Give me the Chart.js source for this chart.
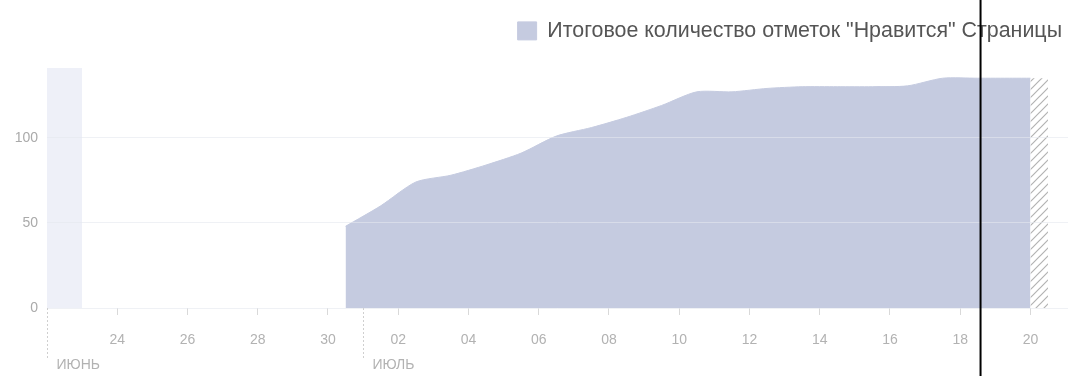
<!DOCTYPE html>
<html>
<head>
<meta charset="utf-8">
<script src="https://cdn.jsdelivr.net/npm/chart.js@4.4.1/dist/chart.umd.min.js"></script>
<style>
    html, body { margin: 0; padding: 0; background: #fff; }
    #wrap { width: 1068px; height: 376px; position: relative; }
</style>
</head>
<body>
<div id="wrap"><canvas id="likesChart"></canvas></div>
<script>
// Ось X: номер дня, 0 = 22 июня, 28 = 20 июля
const tickDays = [2, 4, 6, 8, 10, 12, 14, 16, 18, 20, 22, 24, 26, 28];
const tickLabels = ['24', '26', '28', '30', '02', '04', '06', '08', '10', '12', '14', '16', '18', '20'];
const monthStarts = [0, 9];
const monthNames = ['ИЮНЬ', 'ИЮЛЬ'];
const yTicks = [0, 50, 100];

// Итоговое количество отметок "Нравится" по дням
const likeDays = [8.5, 9.5, 10.5, 11.5, 12.5, 13.5, 14.5, 15.5, 16.5, 17.5, 18.5,
                  19.5, 20.5, 21.5, 22.5, 23.5, 24.5, 25.5, 26.5, 27.5, 28];
const likeValues = [48, 60, 74, 78, 84, 91, 101, 106, 112, 119, 127,
                    127, 129, 130, 130, 130, 130.5, 135, 135, 135, 135];

// Неполный последний день (штриховка)
const partialDays = [28, 28.5];
const partialValues = [135, 135];

// Подсвеченный первый день слева
const bandDays = [0, 1];
const bandValues = [141, 141];

const cursorDay = 26.58; // вертикальная чёрная линия
const xMax = 29.07;
const yMax = 141;

const legendText = 'Итоговое количество отметок "Нравится" Страницы';

function toPoints(xs, ys) {
    return xs.map((x, i) => ({ x: x, y: ys[i] }));
}

function makeHatch() {
    const c = document.createElement('canvas');
    c.width = 8; c.height = 8;
    const g = c.getContext('2d');
    g.fillStyle = '#ffffff';
    g.fillRect(0, 0, 8, 8);
    g.strokeStyle = '#b3b3b3';
    g.lineWidth = 1.2;
    g.beginPath();
    g.moveTo(0, 8); g.lineTo(8, 0);
    g.moveTo(-2, 2); g.lineTo(2, -2);
    g.moveTo(6, 10); g.lineTo(10, 6);
    g.stroke();
    return g.createPattern(c, 'repeat');
}

// Фиксированная высота легенды
const legendHeight = {
    id: 'legendHeight',
    beforeInit(chart) {
        const origFit = chart.legend.fit;
        chart.legend.fit = function () {
            origFit.bind(chart.legend)();
            this.height = 68;
        };
    }
};

// Разделители месяцев и подписи под осью
const monthMarks = {
    id: 'monthMarks',
    afterDraw(chart) {
        const ctx = chart.ctx;
        const xs = chart.scales.x;
        const top = chart.chartArea.bottom;
        ctx.save();
        ctx.strokeStyle = '#cfcfcf';
        ctx.lineWidth = 1;
        ctx.setLineDash([2, 2]);
        ctx.font = '14px "Liberation Sans", Arial, sans-serif';
        ctx.fillStyle = '#b2b2b2';
        ctx.textBaseline = 'middle';
        ctx.textAlign = 'left';
        monthStarts.forEach((d, i) => {
            const px = Math.round(xs.getPixelForValue(d)) + 0.5;
            ctx.beginPath();
            ctx.moveTo(px, top);
            ctx.lineTo(px, top + 52);
            ctx.stroke();
            ctx.fillText(monthNames[i], px + 9, top + 57);
        });
        ctx.restore();
    }
};

// Чёрная вертикальная линия курсора
const cursorLine = {
    id: 'cursorLine',
    afterDraw(chart) {
        const ctx = chart.ctx;
        const px = chart.scales.x.getPixelForValue(cursorDay);
        ctx.save();
        ctx.strokeStyle = '#000';
        ctx.lineWidth = 2;
        ctx.beginPath();
        ctx.moveTo(px, 0);
        ctx.lineTo(px, chart.height);
        ctx.stroke();
        ctx.restore();
    }
};

const ctx = document.getElementById('likesChart').getContext('2d');

new Chart(ctx, {
    type: 'line',
    data: {
        datasets: [
            {
                label: legendText,
                data: toPoints(likeDays, likeValues),
                backgroundColor: '#c5cbe0',
                borderColor: '#c5cbe0',
                borderWidth: 1,
                pointRadius: 0,
                fill: 'origin',
                tension: 0.25
            },
            {
                label: 'partial',
                data: toPoints(partialDays, partialValues),
                backgroundColor: makeHatch(),
                borderColor: 'rgba(0,0,0,0)',
                borderWidth: 1,
                pointRadius: 0,
                fill: 'origin',
                tension: 0
            },
            {
                label: 'band',
                data: toPoints(bandDays, bandValues),
                backgroundColor: '#eef0f8',
                borderColor: 'rgba(0,0,0,0)',
                borderWidth: 1,
                pointRadius: 0,
                fill: 'origin',
                tension: 0
            }
        ]
    },
    options: {
        responsive: true,
        maintainAspectRatio: false,
        animation: false,
        events: [],
        layout: { padding: 0 },
        scales: {
            x: {
                type: 'linear',
                min: 0,
                max: xMax,
                afterFit(scale) { scale.height = 68; },
                afterBuildTicks(scale) {
                    scale.ticks = tickDays.map(v => ({ value: v }));
                },
                ticks: {
                    autoSkip: false,
                    maxRotation: 0,
                    padding: 17,
                    color: '#b2b2b2',
                    font: { family: '"Liberation Sans", Arial, sans-serif', size: 14 },
                    callback: function (value) {
                        const i = tickDays.indexOf(value);
                        return i >= 0 ? tickLabels[i] : '';
                    }
                },
                grid: {
                    drawOnChartArea: false,
                    drawTicks: true,
                    tickLength: 7,
                    color: '#d9d9d9'
                },
                border: { display: false }
            },
            y: {
                min: 0,
                max: yMax,
                afterFit(scale) { scale.width = 47; },
                afterBuildTicks(scale) {
                    scale.ticks = yTicks.map(v => ({ value: v }));
                },
                ticks: {
                    padding: 9,
                    color: '#aaaaaa',
                    font: { family: '"Liberation Sans", Arial, sans-serif', size: 14 }
                },
                grid: {
                    drawTicks: false,
                    color: 'rgba(228,231,238,0.6)',
                    z: 1
                },
                border: { display: false }
            }
        },
        plugins: {
            legend: {
                position: 'top',
                align: 'end',
                title: {
                    display: true,
                    text: '',
                    font: { size: 6 },
                    padding: { top: 7, bottom: 0 }
                },
                labels: {
                    boxWidth: 19,
                    boxHeight: 18,
                    padding: 6,
                    color: '#555555',
                    font: { family: '"Liberation Sans", Arial, sans-serif', size: 21.4 },
                    filter: item => item.datasetIndex === 0
                }
            },
            tooltip: { enabled: false }
        }
    },
    plugins: [legendHeight, monthMarks, cursorLine]
});
</script>
</body>
</html>
